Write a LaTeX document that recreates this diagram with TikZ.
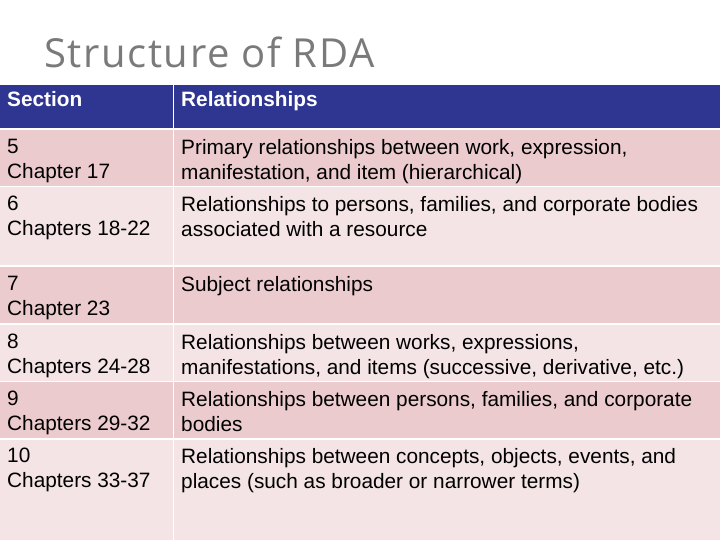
\documentclass[tikz,border=0pt]{standalone}
\usepackage{fontspec}
\setmainfont{Liberation Sans}
\newfontfamily\titlefont[LetterSpace=4]{Open Sans}
\definecolor{hdr}{HTML}{2E3692}
\definecolor{pkA}{HTML}{EBCBCD}
\definecolor{pkB}{HTML}{F4E4E5}
\definecolor{ttl}{HTML}{7A7A7A}
\tikzset{cell/.style={anchor=north west,align=left,font=\fontsize{20.8}{25}\selectfont,inner sep=0pt}}
\begin{document}
\begin{tikzpicture}[x=1pt,y=-1pt]
\useasboundingbox (0,0) rectangle (720,540);
\fill[white] (0,0) rectangle (720,540);
\node[anchor=base west,font=\titlefont\fontsize{40}{42}\selectfont,text=ttl,inner sep=0pt] (title) at (44,68) {Structure of RDA};
\fill[hdr] (0,85) rectangle (720,128);
\foreach \a/\b/\c in {130/186/pkA,187/265/pkB,267/323/pkA,325/381/pkB,382/438/pkA,440/540/pkB}{
  \fill[\c] (0,\a) rectangle (720,\b);
}
\draw[white,line width=1.5pt] (173.5,85) -- (173.5,540);
\node[cell,text=white,font=\bfseries\fontsize{20.8}{25}\selectfont] (h1) at (7,91) {Section};
\node[cell,text=white,font=\bfseries\fontsize{20.8}{25}\selectfont] (h2) at (181,91) {Relationships};
\node[cell] (s5) at (7,139) {5\\Chapter 17};
\node[cell] (r5) at (181,139) {Primary relationships between work, expression,\\manifestation, and item (hierarchical)};
\node[cell] (s6) at (7,196) {6\\Chapters 18-22};
\node[cell] (r6) at (181,196) {Relationships to persons, families, and corporate bodies\\associated with a resource};
\node[cell] (s7) at (7,276) {7\\Chapter 23};
\node[cell] (r7) at (181,276) {Subject relationships};
\node[cell] (s8) at (7,334) {8\\Chapters 24-28};
\node[cell] (r8) at (181,334) {Relationships between works, expressions,\\manifestations, and items (successive, derivative, etc.)};
\node[cell] (s9) at (7,391) {9\\Chapters 29-32};
\node[cell] (r9) at (181,391) {Relationships between persons, families, and corporate\\bodies};
\node[cell] (s10) at (7,448) {10\\Chapters 33-37};
\node[cell] (r10) at (181,448) {Relationships between concepts, objects, events, and\\places (such as broader or narrower terms)};
\end{tikzpicture}
\end{document}
